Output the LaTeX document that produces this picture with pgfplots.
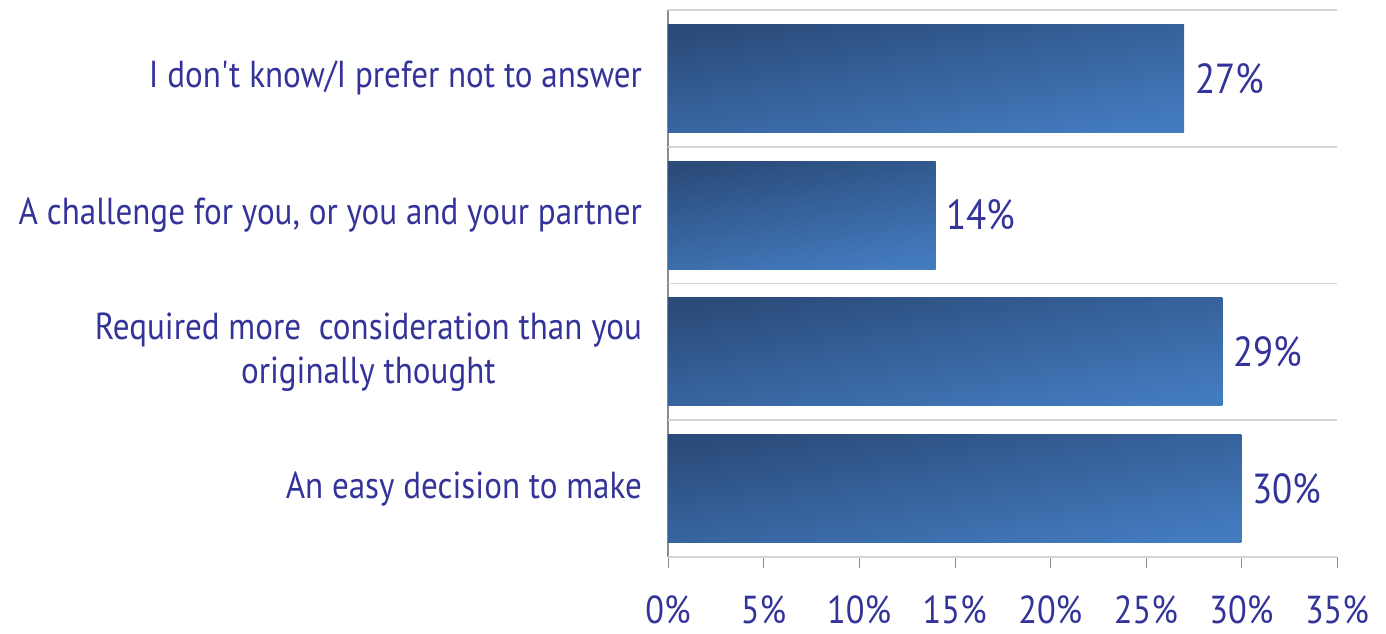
\documentclass[border=0pt]{standalone}
\usepackage{pgfplots}
\pgfplotsset{compat=1.18}
\usepackage{fontspec}
\setmainfont{PT Sans}[FakeStretch=0.88]
\definecolor{txt}{HTML}{333399}
\definecolor{bartop}{HTML}{2B4C7B}
\definecolor{barbot}{HTML}{437BBF}
\definecolor{gridc}{HTML}{D4D4D4}
\definecolor{axc}{HTML}{8C8C8C}

\begin{document}
\begin{tikzpicture}
\begin{axis}[
    scale only axis,
    width=334.5pt,
    height=273.5pt,
    xbar,
    bar width=0.79,
    bar shift=0pt,
    xmin=0, xmax=35,
    ymin=-0.5, ymax=3.5,
    xtick={0,5,...,35},
    xticklabel={\pgfmathprintnumber{\tick}\%},
    /pgf/number format/assume math mode=true,
    ytick={0,1,2,3},
    yticklabels={An easy decision to make,
        {Required more\ \ consideration than you\\originally thought},
        {A challenge for you, or you and your partner},
        {I don\textquotesingle t know/I prefer not to answer}},
    yticklabel style={align=center, font=\fontsize{18.8}{22}\selectfont, text=txt, xshift=-4pt},
    xticklabel style={font=\fontsize{19.5}{22}\selectfont, text=txt, yshift=-10.5pt},
    y tick style={draw=none},
    x tick style={draw=axc},
    tick align=outside,
    major tick length=5.5pt,
    extra y ticks={-0.5,0.5,1.5,2.5,3.5},
    extra y tick labels={},
    extra y tick style={grid=major, major grid style={gridc, line width=0.9pt}, tick style={draw=axc}},
    axis x line*=bottom,
    axis y line*=left,
    axis line style={draw=axc, line width=0.8pt},
    nodes near coords={\pgfmathprintnumber{\pgfplotspointmeta}\%},
    nodes near coords style={font=\fontsize{21}{24}\selectfont, text=txt, anchor=west, xshift=2pt},
    point meta=x,
    every axis plot/.append style={draw=none, top color=bartop, bottom color=barbot, shading angle=10},
    clip=false,
]
\addplot coordinates {(30,0)};
\addplot coordinates {(29,1)};
\addplot coordinates {(14,2)};
\addplot coordinates {(27,3)};
\coordinate (bl) at (rel axis cs:0,0);
\coordinate (tr) at (rel axis cs:1,1);
\end{axis}
\pgfresetboundingbox
\path[use as bounding box] ([shift={(-334pt,-38.5pt)}]bl) rectangle ([shift={(24.5pt,5pt)}]tr);
\end{tikzpicture}
\end{document}
